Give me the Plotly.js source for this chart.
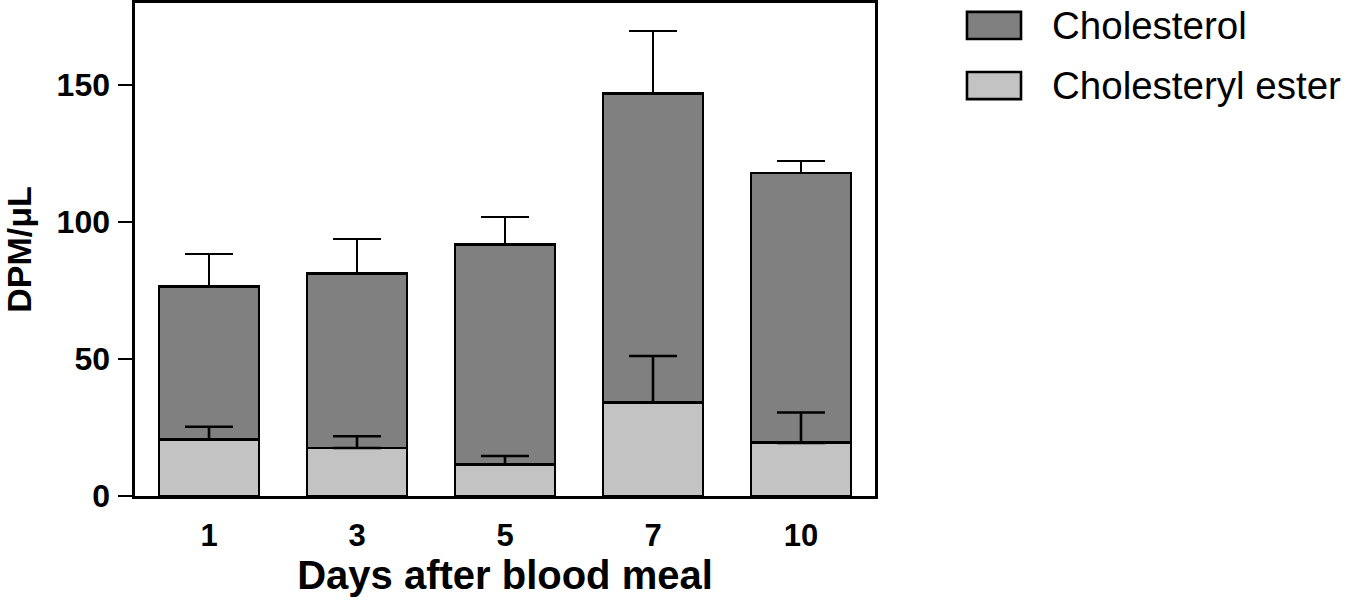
<!DOCTYPE html>
<html>
<head>
<meta charset="utf-8">
<script src="https://cdn.plot.ly/plotly-3.0.1.min.js"></script>
<style>
  html, body { margin: 0; padding: 0; background: #fff; }
  #chart { width: 1355px; height: 609px; }
</style>
</head>
<body>
<div id="chart"></div>
<script>
// ─── Data ─────────────────────────────────────────────────────────────────────
const days = ['1', '3', '5', '7', '10'];
const seriesNames = ['Cholesterol', 'Cholesteryl ester'];
const esterMean = [20.7, 17.5, 11.6, 34.1, 19.4];
const esterErr = [4.6, 4.3, 3.0, 17.0, 11.1];
const cholMean = [55.9, 63.7, 80.2, 113.0, 98.5];
const cholErr = [11.7, 12.6, 10.0, 22.7, 4.4];
const yTicks = [0, 50, 100, 150];

const DARK = '#808080';
const LIGHT = '#c3c3c3';
const FONT = 'Liberation Sans, Arial, Helvetica, sans-serif';
const zeros = days.map(() => 0);

// ─── Traces ───────────────────────────────────────────────────────────────────
const traces = [
    {
        type: 'bar', x: days, y: esterMean, name: seriesNames[1],
        marker: { color: LIGHT, line: { color: '#000', width: 2.8 } },
        showlegend: false,
    },
    {
        type: 'bar', x: days, y: cholMean, name: seriesNames[0],
        marker: { color: DARK, line: { color: '#000', width: 2.8 } },
        error_y: {
            type: 'data', symmetric: false, array: cholErr, arrayminus: zeros,
            color: '#000', thickness: 2.6, width: 24,
        },
        showlegend: false,
    },
    // ester error bars drawn on top of the stacked cholesterol segment
    {
        type: 'scatter', mode: 'markers', x: days, y: esterMean,
        marker: { size: 1, opacity: 0 },
        error_y: {
            type: 'data', symmetric: false, array: esterErr, arrayminus: zeros,
            color: '#000', thickness: 2.6, width: 24,
        },
        hoverinfo: 'skip', showlegend: false,
    },
];

// ─── Custom legend (large boxes like the original) ────────────────────────────
const legendColors = [DARK, LIGHT];
const legendRows = [[0.927, 0.982], [0.805, 0.860]];
const shapes = legendRows.map((r, i) => ({
    type: 'rect', xref: 'paper', yref: 'paper',
    x0: 1.1243, x1: 1.1973, y0: r[0], y1: r[1],
    fillcolor: legendColors[i], line: { color: '#000', width: 2.6 },
}));
const annotations = legendRows.map((r, i) => ({
    xref: 'paper', yref: 'paper', x: 1.2365, y: (r[0] + r[1]) / 2,
    xanchor: 'left', yanchor: 'middle', showarrow: false,
    text: seriesNames[i],
    font: { family: FONT, size: 38.5, color: '#000' },
}));

const layout = {
    width: 1355, height: 609,
    margin: { l: 135, r: 480, t: 3, b: 113 },
    paper_bgcolor: '#fff', plot_bgcolor: '#fff',
    barmode: 'stack', bargap: 0.324,
    showlegend: false,
    font: { family: FONT, color: '#000' },
    xaxis: {
        type: 'category', range: [-0.5, 4.5],
        showline: true, linecolor: '#000', linewidth: 2.6, mirror: true,
        ticks: '', showgrid: false, zeroline: false,
        tickfont: { family: FONT, size: 31, color: '#000', weight: 'bold' },
        ticklabelstandoff: 10,
        title: {
            text: 'Days after blood meal', standoff: 10,
            font: { family: FONT, size: 40, color: '#000', weight: 'bold' },
        },
    },
    yaxis: {
        range: [0, 180], tickvals: yTicks,
        showline: true, linecolor: '#000', linewidth: 2.6, mirror: true,
        ticks: 'outside', ticklen: 14, tickwidth: 2.6, tickcolor: '#000',
        showgrid: false, zeroline: false,
        tickfont: { family: FONT, size: 32, color: '#000', weight: 'bold' },
        ticklabelstandoff: 2,
        title: {
            text: 'DPM/μL', standoff: 18,
            font: { family: FONT, size: 34, color: '#000', weight: 'bold' },
        },
    },
    shapes,
    annotations,
};

Plotly.newPlot('chart', traces, layout, { displayModeBar: false, staticPlot: true });
</script>
</body>
</html>
